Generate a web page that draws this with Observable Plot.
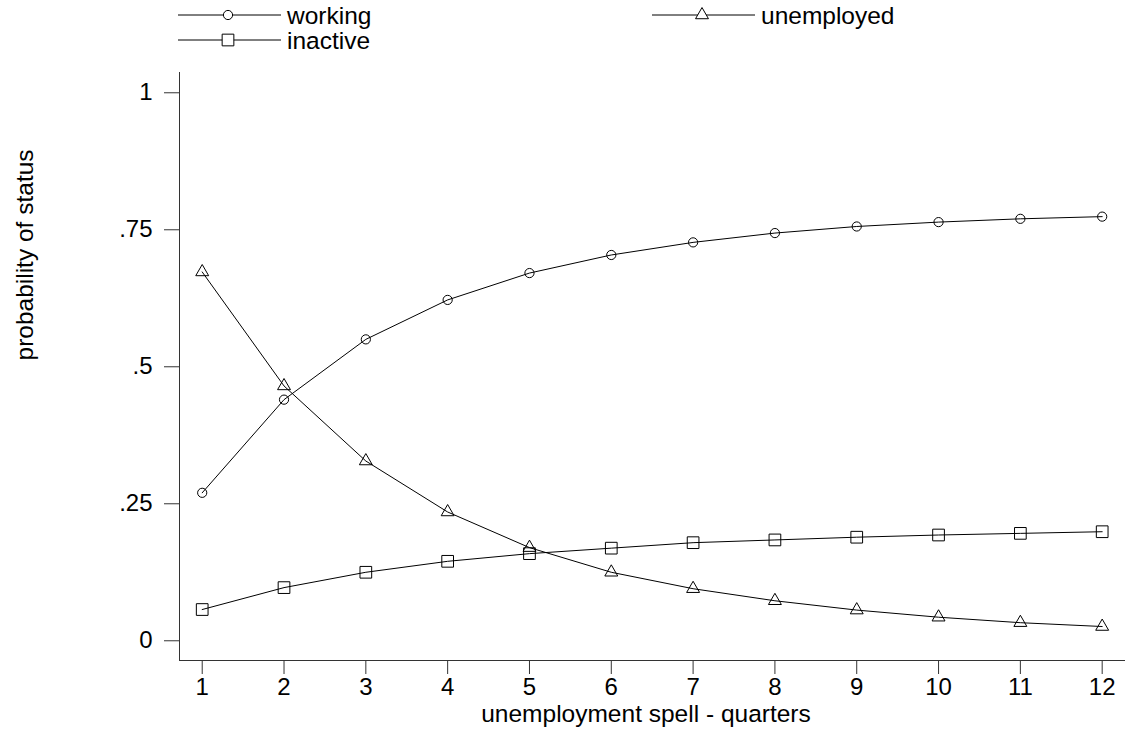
<!DOCTYPE html>
<html>
<head>
<meta charset="utf-8">
<script src="https://cdn.jsdelivr.net/npm/d3@7"></script>
<script src="https://cdn.jsdelivr.net/npm/@observablehq/plot@0.6"></script>
<style>
  html, body { margin: 0; padding: 0; background: #fff; }
  body { width: 1129px; height: 732px; overflow: hidden; font-family: "Liberation Sans", Arial, Helvetica, sans-serif; }
  #legend, #chart { display: block; line-height: 0; }
  #legend svg, #chart svg { display: block; }
</style>
</head>
<body>
<div id="legend"></div>
<div id="chart"></div>
<script>
// ---- data ----
const quarters = [1, 2, 3, 4, 5, 6, 7, 8, 9, 10, 11, 12];
const working = [0.270, 0.440, 0.550, 0.622, 0.671, 0.704, 0.727, 0.744, 0.756, 0.764, 0.770, 0.774];
const unemployed = [0.673, 0.465, 0.328, 0.235, 0.170, 0.125, 0.095, 0.073, 0.056, 0.043, 0.033, 0.026];
const inactive = [0.057, 0.097, 0.125, 0.145, 0.159, 0.169, 0.179, 0.184, 0.189, 0.193, 0.196, 0.199];
const seriesNames = ["working", "unemployed", "inactive"];
const xTicks = [1, 2, 3, 4, 5, 6, 7, 8, 9, 10, 11, 12];
const yTicks = [0, 0.25, 0.5, 0.75, 1];
const yTickLabels = ["0", ".25", ".5", ".75", "1"];
const xTitle = "unemployment spell - quarters";
const yTitle = "probability of status";

// ---- layout ----
const W = 1129, LEGEND_H = 56, H = 732 - LEGEND_H;
const xDomain = [0.7225, 12.285];
const yDomain = [-0.036, 1.037];
const FONT = '"Liberation Sans", Arial, Helvetica, sans-serif';
const INK = "#000";

const values = { working, unemployed, inactive };
const symbols = { working: "circle", unemployed: "triangle", inactive: "square" };
const radii = { working: 4.6, unemployed: 4.8, inactive: 6.6 };

const rows = seriesNames.flatMap(s => quarters.map((q, i) => ({ q, v: values[s][i], s })));

const marks = [
  Plot.ruleX([xDomain[0]], { stroke: "#333", strokeWidth: 1 }),
  Plot.ruleY([yDomain[0]], { stroke: "#333", strokeWidth: 1 }),
  Plot.axisX({ ticks: xTicks, tickSize: 14, tickPadding: 3, tickFormat: d => String(d), label: null, color: INK, stroke: "#333" }),
  Plot.axisY({ ticks: yTicks, tickSize: 15, tickPadding: 12, tickFormat: d => yTickLabels[yTicks.indexOf(d)], label: null, color: INK, stroke: "#333" }),
  Plot.lineY(rows, { x: "q", y: "v", z: "s", stroke: INK, strokeWidth: 1 })
];
for (const s of seriesNames) {
  marks.push(Plot.dot(rows.filter(d => d.s === s), {
    x: "q", y: "v", symbol: () => symbols[s], r: radii[s], stroke: INK, fill: "none", strokeWidth: 1
  }));
}
marks.push(Plot.text([xTitle], { frameAnchor: "bottom", text: d => d, dy: 54, dx: -6.5, lineAnchor: "middle", fontSize: 24.5, fill: INK }));
marks.push(Plot.text([yTitle], { frameAnchor: "left", text: d => d, rotate: -90, dx: -154, dy: -6, lineAnchor: "middle", fontSize: 24.5, fill: INK }));

const chart = Plot.plot({
  width: W,
  height: H,
  marginTop: 72 - LEGEND_H,
  marginBottom: H - (660 - LEGEND_H),
  marginLeft: 179,
  marginRight: 4,
  x: { domain: xDomain, type: "linear" },
  y: { domain: yDomain, type: "linear" },
  symbol: { type: "identity" },
  style: { fontSize: "24px", fontFamily: FONT, color: INK, background: "#fff", overflow: "visible" },
  marks
});
document.getElementById("chart").appendChild(chart);

// ---- legend (SVG above the chart) ----
const legendItems = [
  { name: "working", x0: 178, row: 0 },
  { name: "unemployed", x0: 652, row: 0 },
  { name: "inactive", x0: 178, row: 1 }
];
const rowY = [15, 40];
const lg = d3.select("#legend").append("svg").attr("width", W).attr("height", LEGEND_H);
for (const it of legendItems) {
  const y = rowY[it.row];
  const g = lg.append("g");
  g.append("line").attr("x1", it.x0).attr("x2", it.x0 + 103).attr("y1", y).attr("y2", y).attr("stroke", INK).attr("stroke-width", 1);
  const sym = { circle: d3.symbolCircle, triangle: d3.symbolTriangle, square: d3.symbolSquare }[symbols[it.name]];
  const r = radii[it.name];
  g.append("path").attr("d", d3.symbol(sym, Math.PI * r * r)()).attr("transform", `translate(${it.x0 + 50},${y})`)
    .attr("fill", "#fff").attr("stroke", INK).attr("stroke-width", 1);
  g.append("text").attr("x", it.x0 + 109).attr("y", y + 8.5).attr("font-size", 24.5).attr("font-family", FONT).attr("fill", INK).text(it.name);
}
</script>
</body>
</html>
